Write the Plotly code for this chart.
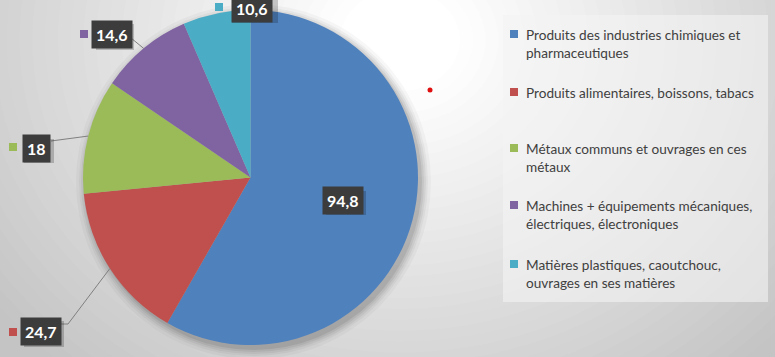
import math
import plotly.graph_objects as go

categories = [
    "Produits des industries chimiques et<br>pharmaceutiques",
    "Produits alimentaires, boissons, tabacs",
    "Métaux communs et ouvrages en ces<br>métaux",
    "Machines + équipements mécaniques,<br>électriques, électroniques",
    "Matières plastiques, caoutchouc,<br>ouvrages en ses matières",
]
values = [94.8, 24.7, 18, 14.6, 10.6]
colors = ["#4F81BD", "#C0504D", "#9BBB59", "#8064A2", "#4BACC6"]

W, H = 775, 357
CX, CY, R = 250.5, 177.5, 167.5


def px(x):
    return x / W


def py(y):
    return 1 - y / H


def fmt(v):
    s = ("%g" % v)
    return s.replace(".", ",")


shapes = []
annotations = []

# background radial gradient
GX, GY, SY = 400, 40, 0.85
N = 40
for i in range(N):
    t = i / (N - 1)
    r = 560 - (560 - 60) * t
    g = 255 - 59 * min(1.0, max(0.0, (r - 60) / 460))
    g = int(round(g))
    shapes.append(dict(type="circle", xref="paper", yref="paper", layer="below",
                       x0=px(GX - r), x1=px(GX + r), y0=py(GY + r * SY), y1=py(GY - r * SY),
                       fillcolor=f"rgb({g},{g},{g})", line=dict(width=0)))

# pie shadow
for dr, a in [(10, 0.03), (7, 0.04), (5, 0.05), (3, 0.06), (1, 0.08)]:
    ox, oy = 3, 4
    shapes.append(dict(type="circle", xref="paper", yref="paper", layer="below",
                       x0=px(CX + ox - R - dr), x1=px(CX + ox + R + dr),
                       y0=py(CY + oy + R + dr), y1=py(CY + oy - R - dr),
                       fillcolor=f"rgba(0,0,0,{a})", line=dict(width=0)))

# legend box
shapes.append(dict(type="rect", xref="paper", yref="paper", layer="below",
                   x0=px(503), x1=px(768), y0=py(302), y1=py(15),
                   fillcolor="rgba(244,244,244,0.6)", line=dict(width=0)))

# legend entries (manual)
leg_y = [34, 92, 148, 205, 264]
for cat, col, ly in zip(categories, colors, leg_y):
    shapes.append(dict(type="rect", xref="paper", yref="paper",
                       x0=px(510), x1=px(518), y0=py(ly + 4), y1=py(ly - 4),
                       fillcolor=col, line=dict(width=0)))
    annotations.append(dict(x=px(524), y=py(ly - 9), xref="paper", yref="paper",
                            xanchor="left", yanchor="top", align="left", showarrow=False,
                            text=cat, font=dict(family="Lato", size=13.6, color="#404040")))

# slice mid angles from data
total = sum(values)
mids = []
acc = 0
for v in values:
    mids.append((acc + v / 2) / total * 2 * math.pi)
    acc += v


def edge(i):
    a = mids[i]
    return CX + R * math.sin(a), CY - R * math.cos(a)


# label positions (box centres), box half sizes, and marker squares
label_pos = [(343, 200), (41, 331), (36, 148), (112, 34), (252, 8)]
label_half = [(20, 12), (20, 13), (15, 12), (19, 13), (23, 12)]
marker_pos = [None, (13, 332), (13, 147), (84, 34), (219, 7)]

# leader lines
ex, ey = edge(1)
shapes.append(dict(type="path", xref="paper", yref="paper",
                   path=f"M {px(61)},{py(324)} L {px(68)},{py(324)} L {px(ex)},{py(ey)}",
                   line=dict(color="#808080", width=1)))
ex, ey = edge(2)
shapes.append(dict(type="line", xref="paper", yref="paper",
                   x0=px(51), y0=py(141), x1=px(ex), y1=py(ey), line=dict(color="#808080", width=1)))
ex, ey = edge(3)
shapes.append(dict(type="line", xref="paper", yref="paper",
                   x0=px(131), y0=py(38), x1=px(ex), y1=py(ey), line=dict(color="#808080", width=1)))

for i, v in enumerate(values):
    lx, ly = label_pos[i]
    hw, hh = label_half[i]
    # soft shadow behind the label box
    shapes.append(dict(type="rect", xref="paper", yref="paper",
                       x0=px(lx - hw + 3), x1=px(lx + hw + 3), y0=py(ly + hh + 3), y1=py(ly - hh + 3),
                       fillcolor="rgba(0,0,0,0.2)", line=dict(width=0)))
    annotations.append(dict(x=px(lx), y=py(ly), xref="paper", yref="paper",
                            xanchor="center", yanchor="middle",
                            showarrow=False, text=f"<b>{fmt(v)}</b>",
                            font=dict(family="Lato", size=16, color="white"),
                            bgcolor="#3c3c3c", borderpad=4))
    if marker_pos[i]:
        mx, my = marker_pos[i]
        shapes.append(dict(type="rect", xref="paper", yref="paper",
                           x0=px(mx - 4), x1=px(mx + 4), y0=py(my + 4), y1=py(my - 4),
                           fillcolor=colors[i], line=dict(width=0)))

# stray red dot
shapes.append(dict(type="circle", xref="paper", yref="paper",
                   x0=px(427.5), x1=px(432.5), y0=py(92.5), y1=py(87.5),
                   fillcolor="#e01010", line=dict(width=0)))

fig = go.Figure(go.Pie(
    labels=categories, values=values, sort=False, direction="clockwise", rotation=0,
    marker=dict(colors=colors, line=dict(width=0)), textinfo="none", hoverinfo="label+value",
    domain=dict(x=[px(CX - R), px(CX + R)], y=[py(CY + R), py(CY - R)]),
    showlegend=False,
))

fig.update_layout(width=W, height=H, margin=dict(l=0, r=0, t=0, b=0),
                  paper_bgcolor="#c4c4c4", plot_bgcolor="rgba(0,0,0,0)",
                  shapes=shapes, annotations=annotations, showlegend=False)

fig.write_html("out.html", config={"displayModeBar": False},
               post_script="document.body.style.margin='0';document.body.style.overflow='hidden';")
